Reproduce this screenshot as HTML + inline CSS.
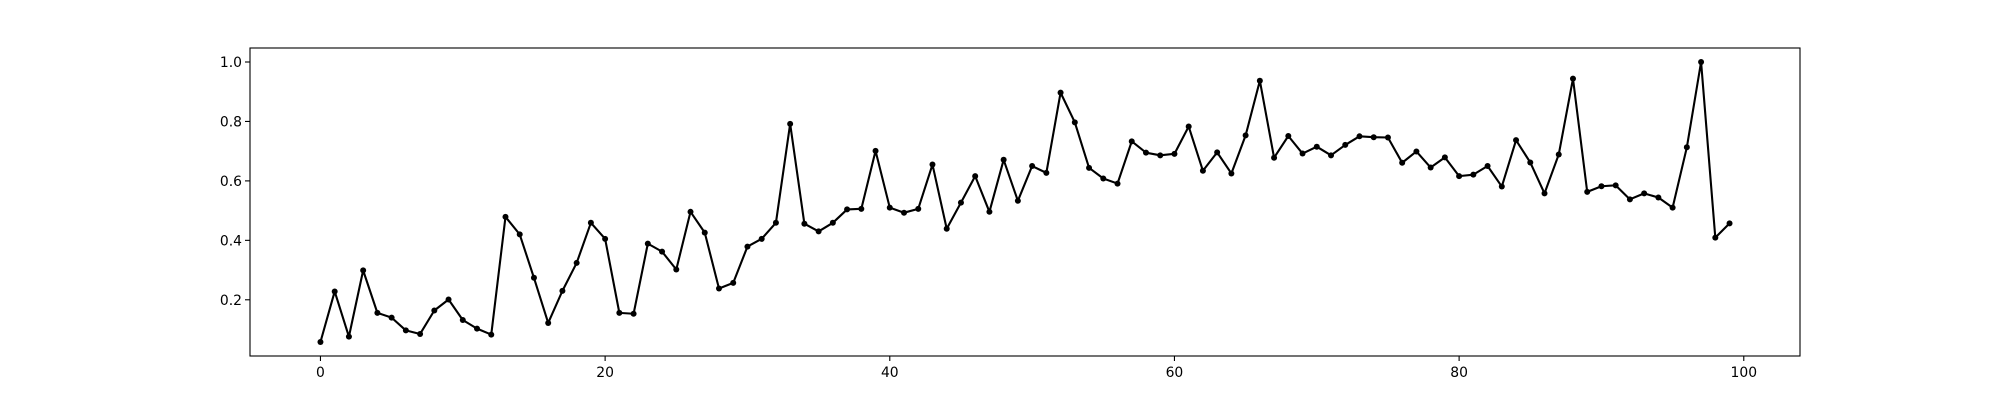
<!DOCTYPE html>
<html><head><meta charset="utf-8"><style>
html,body{margin:0;padding:0;background:#fff;}
svg text{font-family:"DejaVu Sans","Liberation Sans",sans-serif;font-size:13.9px;fill:#000;}
</style></head><body>
<svg id="chart" width="2000" height="400" xmlns="http://www.w3.org/2000/svg">
<rect width="2000" height="400" fill="#fff"/>
<g id="plot"></g>
</svg>
<script>
const values = [0.058,0.228,0.076,0.299,0.156,0.140,0.097,0.085,0.164,0.201,
0.132,0.103,0.083,0.479,0.420,0.274,0.122,0.230,0.324,0.459,
0.405,0.156,0.153,0.389,0.362,0.302,0.496,0.426,0.238,0.257,
0.379,0.405,0.459,0.792,0.456,0.430,0.459,0.504,0.506,0.701,
0.510,0.493,0.506,0.655,0.439,0.527,0.616,0.496,0.671,0.533,
0.650,0.627,0.897,0.797,0.644,0.608,0.591,0.733,0.695,0.686,
0.691,0.783,0.634,0.696,0.625,0.753,0.937,0.678,0.751,0.692,
0.715,0.686,0.721,0.750,0.747,0.746,0.661,0.699,0.645,0.679,
0.616,0.621,0.650,0.581,0.737,0.662,0.558,0.689,0.944,0.563,
0.582,0.585,0.538,0.558,0.544,0.510,0.713,1.000,0.409,0.457];
const xTicks = [0,20,40,60,80,100];
const yTicks = [0.2,0.4,0.6,0.8,1.0];
const yTickLabels = ["0.2","0.4","0.6","0.8","1.0"];

const L=250,R=1800,T=48,B=356;
const n=values.length;
const xMin=-0.05*(n-1), xMax=(n-1)*1.05;
const vMin=Math.min(...values), vMax=Math.max(...values), pad=(vMax-vMin)*0.05;
const yMin=vMin-pad, yMax=vMax+pad;
const sx=v=>L+(v-xMin)/(xMax-xMin)*(R-L);
const sy=v=>B-(v-yMin)/(yMax-yMin)*(B-T);
const NS="http://www.w3.org/2000/svg";
const g=document.getElementById('plot');
function mk(tag,attrs){const e=document.createElementNS(NS,tag);for(const k in attrs)e.setAttribute(k,attrs[k]);g.appendChild(e);return e;}

const pts=values.map((v,i)=>sx(i).toFixed(2)+','+sy(v).toFixed(2)).join(' ');
const line=mk('polyline',{points:pts,fill:'none',stroke:'#000','stroke-width':2.1,'stroke-linejoin':'round'});


values.forEach((v,i)=>{
  const c=mk('circle',{cx:sx(i),cy:sy(v),r:3,fill:'#000'});
  
  
});
const frame=mk('rect',{x:L,y:T,width:R-L,height:B-T,fill:'none',stroke:'#000','stroke-width':1.1});


xTicks.forEach(t=>{
  const x=sx(t);
  const tk=mk('line',{x1:x,x2:x,y1:B,y2:B+5,stroke:'#000','stroke-width':1.1});
  
  
  const tx=mk('text',{x:x,y:B+21,'text-anchor':'middle'});
  tx.textContent=String(t);
  
  
});
yTicks.forEach((t,i)=>{
  const y=sy(t);
  const tk=mk('line',{x1:L-5,x2:L,y1:y,y2:y,stroke:'#000','stroke-width':1.1});
  
  
  const tx=mk('text',{x:L-8,y:y+5,'text-anchor':'end'});
  tx.textContent=yTickLabels[i];
  
  
});
</script>
</body></html>
